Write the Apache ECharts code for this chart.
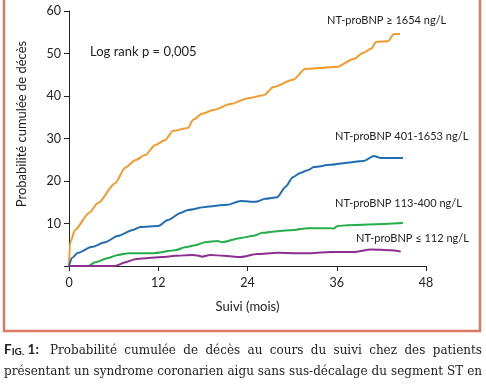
<!DOCTYPE html>
<html><head><meta charset="utf-8">
<script src="https://cdn.jsdelivr.net/npm/echarts@6/dist/echarts.min.js"></script>
<style>html,body{margin:0;padding:0;background:#fff}#c{width:486px;height:386px}</style>
</head><body><div id="c"></div>
<script>
// Data (months, cumulative probability %)
const xTicks = [0, 12, 24, 36, 48];
const yTicks = [0, 10, 20, 30, 40, 50, 60];
const seriesNames = ['NT-proBNP ≥ 1654 ng/L', 'NT-proBNP 401-1653 ng/L', 'NT-proBNP 113-400 ng/L', 'NT-proBNP ≤ 112 ng/L'];
const high = [[0,0],[0.13,5.4],[0.81,8.5],[2.7,12.5],[3.9,14.8],[6.2,19.5],[7.55,23.1],[8.9,24.9],[10.25,26.1],[11.6,28.5],[12.9,29.6],[14.0,31.8],[16.0,32.5],[16.7,34.4],[17.9,35.8],[19.4,36.7],[21.7,38.1],[24.1,39.5],[26.2,40.2],[27.5,42.1],[30.1,43.8],[31.8,46.4],[35.9,46.8],[38.3,48.7],[39.5,50.1],[40.6,51.1],[41.3,52.7],[42.9,52.9],[43.7,54.6],[44.5,54.6]];
const midHigh = [[0,0],[0.4,1.9],[1.2,3.1],[3.1,4.5],[4.85,5.6],[6.6,7.1],[8.6,8.5],[9.6,9.2],[12.0,9.4],[13.3,10.8],[15.0,12.5],[16.0,13.2],[18.3,13.9],[21.3,14.4],[23.1,15.3],[25.1,15.1],[26.4,15.8],[28.0,16.2],[29.1,18.6],[30.1,20.9],[31.1,21.9],[32.2,22.6],[32.9,23.3],[35.2,23.8],[36.9,24.2],[39.6,24.7],[41.0,25.9],[41.9,25.4],[44.9,25.4]];
const midLow = [[0,0],[2.6,0],[3.5,0.9],[5.3,1.9],[6.6,2.6],[8.0,3.0],[11.2,3.0],[14.3,3.7],[15.6,4.4],[17.0,4.9],[18.3,5.6],[20.0,5.9],[20.6,5.6],[23.1,6.6],[24.8,7.1],[26.0,7.8],[28.0,8.2],[30.2,8.5],[32.1,8.9],[35.2,8.9],[35.6,8.8],[36.1,9.4],[37.5,9.6],[44.9,10.1]];
const low = [[0,0],[6.2,0],[7.6,0.9],[8.9,1.6],[10.7,1.9],[12.5,2.1],[14.3,2.4],[16.6,2.6],[17.3,2.5],[17.9,2.2],[19.0,2.6],[20.8,2.4],[23.1,2.1],[25.3,2.8],[28.0,3.1],[30.7,3.0],[32.5,3.0],[35.2,3.3],[38.3,3.3],[40.6,3.9],[43.3,3.7],[44.6,3.4]];
const captionLines = [
  ['Probabilité','cumulée','de','décès','au','cours','du','suivi','chez','des','patients'],
  ['présentant','un','syndrome','coronarien','aigu','sans','sus-décalage','du','segment','ST','en']
];

const chart = echarts.init(document.getElementById('c'), null, {renderer:'canvas'});
const sansFont = 'Lato, "Open Sans", sans-serif';
const serifFont = '"DejaVu Serif", serif';

// justify caption words
const cv = document.createElement('canvas').getContext('2d');
function justify(words, x0, x1, y, font, startOffset) {
  cv.font = font;
  const widths = words.map(w => cv.measureText(w).width);
  const total = widths.reduce((a,b)=>a+b,0);
  const gap = (x1 - x0 - startOffset - total) / (words.length - 1);
  let x = x0 + startOffset;
  const out = [];
  words.forEach((w,i) => {
    out.push({type:'text', left:x, top:y, style:{text:w, font:font, fill:'#222'}});
    x += widths[i] + gap;
  });
  return out;
}
const capFont = '12px ' + serifFont;
const figW = 46;

const graphics = [
  {type:'polyline', shape:{points:[[4,-10],[4,331],[480,331],[480,-10]]}, style:{stroke:'#dc7761', lineWidth:2.5, fill:null}},
  {type:'text', left:90, top:45, style:{text:'Log rank p = 0,005', font:'13px ' + sansFont, fill:'#222'}},
  {type:'text', left:327, top:15, style:{text:seriesNames[0], font:'11px ' + sansFont, fill:'#222'}},
  {type:'text', left:335, top:131, style:{text:seriesNames[1], font:'11px ' + sansFont, fill:'#222'}},
  {type:'text', left:335, top:198, style:{text:seriesNames[2], font:'11px ' + sansFont, fill:'#222'}},
  {type:'text', left:356, top:233, style:{text:seriesNames[3], font:'11px ' + sansFont, fill:'#222'}},
  {type:'text', x:22, y:124, rotation:Math.PI/2, style:{text:'Probabilité cumulée de décès', font:'13px ' + sansFont, fill:'#222', align:'center', verticalAlign:'middle'}},
  {type:'text', left:4, top:343, style:{
    text:'{a|F}{b|IG.} {a|1:}',
    rich:{
      a:{fontFamily:'Lato', fontWeight:'bold', fontSize:13.5, fill:'#222', verticalAlign:'bottom'},
      b:{fontFamily:'Lato', fontWeight:'bold', fontSize:10, fill:'#222', verticalAlign:'bottom'}
    }}}
].concat(justify(captionLines[0], 4, 482, 345, capFont, figW))
 .concat(justify(captionLines[1], 4, 482, 366, capFont, 0));

const mk = (name, data, color) => ({
  name, type:'line', data, showSymbol:false, symbol:'none', smooth:0.25, smoothMonotone:'x',
  lineStyle:{color, width:2}, itemStyle:{color}, z:3
});

chart.setOption({
  animation:false,
  backgroundColor:'#fff',
  grid:{left:69, right:60, top:11, bottom:120, containLabel:false},
  xAxis:{type:'value', min:0, max:48, interval:12,
    name:'Suivi (mois)', nameLocation:'middle', nameGap:34,
    nameTextStyle:{fontFamily:'Lato', fontSize:13, color:'#222'},
    axisLine:{lineStyle:{color:'#222', width:1}},
    axisTick:{show:true, length:5, lineStyle:{color:'#222'}},
    axisLabel:{fontFamily:'Lato', fontSize:12.5, color:'#222', margin:10},
    splitLine:{show:false}},
  yAxis:{type:'value', min:0, max:60, interval:10,
    axisLine:{show:true, lineStyle:{color:'#222', width:1}},
    axisTick:{show:true, length:5, lineStyle:{color:'#222'}},
    axisLabel:{fontFamily:'Lato', fontSize:12.5, color:'#222', margin:8,
      formatter: v => v === 0 ? '' : String(v)},
    splitLine:{show:false}},
  series:[
    mk(seriesNames[0], high, '#f39a2c'),
    mk(seriesNames[1], midHigh, '#1f6db3'),
    mk(seriesNames[2], midLow, '#25ad4c'),
    mk(seriesNames[3], low, '#8e2f8f')
  ],
  graphic:graphics
});
</script></body></html>
